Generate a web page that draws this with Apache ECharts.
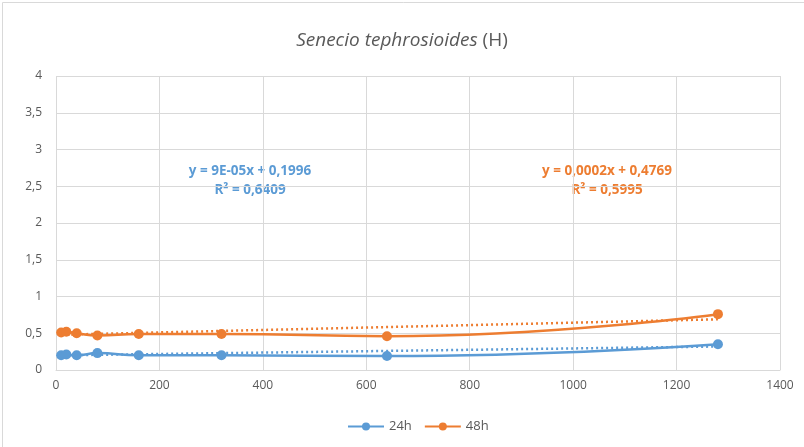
<!DOCTYPE html>
<html>
<head>
<meta charset="utf-8">
<script src="https://cdn.jsdelivr.net/npm/echarts@6/dist/echarts.min.js"></script>
<style>
  html, body { margin: 0; padding: 0; background: #fff; }
  #chart { width: 804px; height: 447px; }
</style>
</head>
<body>
<div id="chart"></div>
<script>
// concentraciones (eje x)
var doses = [10, 20, 40, 80, 160, 320, 640, 1280];
// valores medidos
var values24h = [0.20, 0.21, 0.20, 0.23, 0.20, 0.20, 0.19, 0.35];
var values48h = [0.51, 0.52, 0.50, 0.47, 0.49, 0.49, 0.46, 0.76];
// extremos de las lineas de tendencia
var trendX = [10, 1280];
var trend24h = [0.20, 0.32];
var trend48h = [0.48, 0.69];
// etiquetas de las ecuaciones
var eq24h = ['y = 9E-05x + 0,1996', 'R² = 0,6409'];
var eq48h = ['y = 0,0002x + 0,4769', 'R² = 0,5995'];

var blue = '#5B9BD5';
var orange = '#ED7D31';
var fontFam = '"Open Sans", "Noto Sans", sans-serif';

function pairs(xs, ys) {
    var out = [];
    for (var i = 0; i < xs.length; i++) {
        out.push([xs[i], ys[i]]);
    }
    return out;
}

var myChart = echarts.init(document.getElementById('chart'));

myChart.setOption({
    animation: false,
    title: {
        text: '{i|Senecio tephrosioides} {n|(H)}',
        left: 'center',
        top: 26,
        textStyle: {
            fontWeight: 'normal',
            rich: {
                i: { fontFamily: fontFam, fontSize: 19, fontStyle: 'italic', fontWeight: 'normal', color: '#595959' },
                n: { fontFamily: fontFam, fontSize: 19, fontWeight: 'normal', color: '#595959' }
            }
        }
    },
    legend: {
        data: ['24h', '48h'],
        bottom: 9,
        left: 342,
        itemWidth: 36,
        itemHeight: 10,
        itemGap: 12,
        textStyle: { color: '#595959', fontSize: 13, fontFamily: fontFam }
    },
    grid: {
        left: 56,
        right: 24,
        top: 76,
        bottom: 77,
        containLabel: false
    },
    xAxis: {
        type: 'value',
        min: 0,
        max: 1400,
        interval: 200,
        axisLine: { show: true, lineStyle: { color: '#d9d9d9' } },
        axisTick: { show: false },
        axisLabel: {
            color: '#595959', fontSize: 12, fontFamily: fontFam, margin: 10,
            formatter: function (v) { return String(v); }
        },
        splitLine: { show: true, lineStyle: { color: '#d9d9d9' } }
    },
    yAxis: {
        type: 'value',
        min: 0,
        max: 4,
        interval: 0.5,
        axisLine: { show: false },
        axisTick: { show: false },
        axisLabel: {
            color: '#595959', fontSize: 12, fontFamily: fontFam, margin: 14,
            formatter: function (v) { return String(v).replace('.', ','); }
        },
        splitLine: { show: true, lineStyle: { color: '#d9d9d9' } }
    },
    series: [
        {
            name: '24h',
            type: 'line',
            smooth: 0.5,
            data: pairs(doses, values24h),
            symbol: 'circle',
            symbolSize: 10,
            itemStyle: { color: blue },
            lineStyle: { color: blue, width: 2.5 },
            z: 3
        },
        {
            name: '48h',
            type: 'line',
            smooth: 0.5,
            data: pairs(doses, values48h),
            symbol: 'circle',
            symbolSize: 10,
            itemStyle: { color: orange },
            lineStyle: { color: orange, width: 2.5 },
            z: 3
        },
        {
            name: 'trend24h',
            type: 'line',
            data: pairs(trendX, trend24h),
            symbol: 'none',
            lineStyle: { color: blue, width: 2.5, type: [2, 3] },
            z: 2
        },
        {
            name: 'trend48h',
            type: 'line',
            data: pairs(trendX, trend48h),
            symbol: 'none',
            lineStyle: { color: orange, width: 2.5, type: [2, 3] },
            z: 2
        }
    ],
    graphic: [
        {
            type: 'rect',
            left: 0, top: 0,
            shape: { x: 0.5, y: 0.5, width: 803, height: 446 },
            style: { fill: 'none', stroke: '#d9d9d9', lineWidth: 1 },
            silent: true
        },
        {
            type: 'text',
            x: 250, y: 181,
            style: {
                text: eq24h.join('\n'),
                fill: blue, font: 'bold 13.5px ' + fontFam,
                textAlign: 'center', textVerticalAlign: 'middle', lineHeight: 19
            }
        },
        {
            type: 'text',
            x: 607, y: 181,
            style: {
                text: eq48h.join('\n'),
                fill: orange, font: 'bold 13.5px ' + fontFam,
                textAlign: 'center', textVerticalAlign: 'middle', lineHeight: 19
            }
        }
    ]
});
</script>
</body>
</html>
